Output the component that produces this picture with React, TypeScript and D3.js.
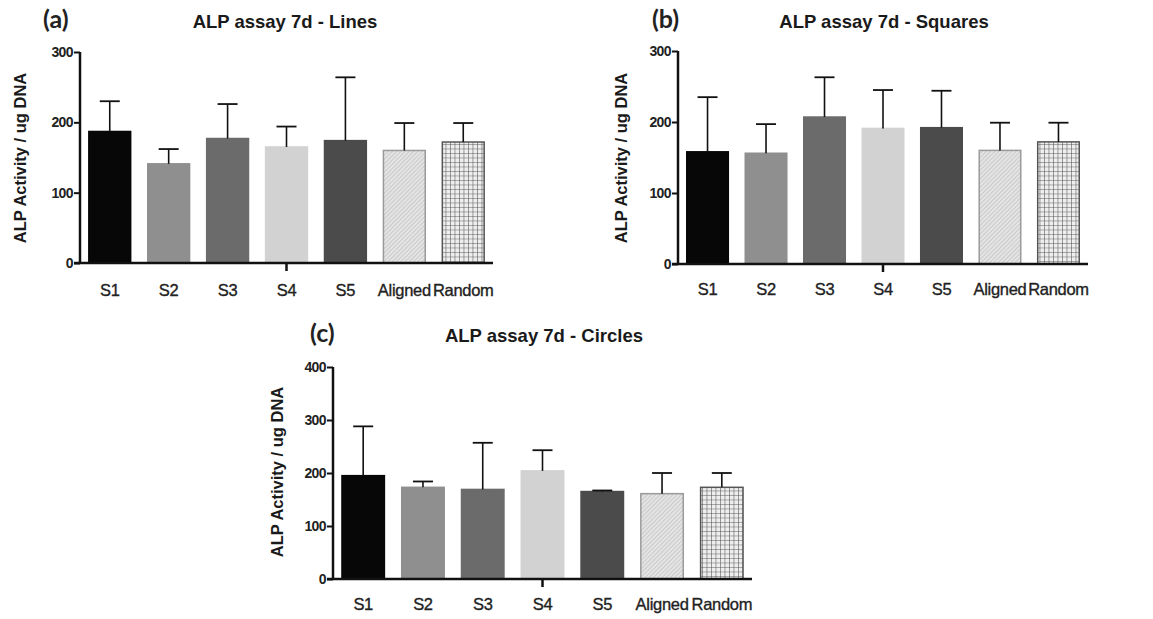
import React, { useEffect, useRef } from "react";
import * as d3 from "d3";

// groups on the x axis
const categories = ["S1", "S2", "S3", "S4", "S5", "Aligned", "Random"];

// (a) Lines
const linesMean = [187, 141, 177, 165, 174, 160, 172];
const linesErrTop = [230, 162, 226, 194, 264, 199, 199];

// (b) Squares
const squaresMean = [158, 156, 207, 191, 192, 160, 172];
const squaresErrTop = [235, 197, 263, 245, 244, 199, 199];

// (c) Circles
const circlesMean = [195, 173, 169, 204, 165, 161, 173];
const circlesErrTop = [288, 184, 257, 243, 167, 200, 200];

const yTicksA = [0, 100, 200, 300];
const yTicksC = [0, 100, 200, 300, 400];

const fills = ["#070707", "#8f8f8f", "#6b6b6b", "#d2d2d2", "#4b4b4b", "url(#hatch)", "url(#grid)"];
const strokes = ["#070707", "#8f8f8f", "#6b6b6b", "#d2d2d2", "#4b4b4b", "#9a9a9a", "#555"];

const panels = [
  { tag: "(a)", title: "ALP assay 7d - Lines", mean: linesMean, err: linesErrTop, ticks: yTicksA,
    x0: 80, x1: 493, yTop: 52, yBot: 263, tagX: 43, titleX: 285, titleY: 28, labelX: 20, labelY: 158, xLabY: 296 },
  { tag: "(b)", title: "ALP assay 7d - Squares", mean: squaresMean, err: squaresErrTop, ticks: yTicksA,
    x0: 678, x1: 1088, yTop: 51, yBot: 264, tagX: 652, titleX: 884, titleY: 28, labelX: 621, labelY: 158, xLabY: 295 },
  { tag: "(c)", title: "ALP assay 7d - Circles", mean: circlesMean, err: circlesErrTop, ticks: yTicksC,
    x0: 333, x1: 752, yTop: 367, yBot: 579, tagX: 310, titleX: 544, titleY: 342, labelX: 277, labelY: 472, xLabY: 610 },
];

const font = "Liberation Sans, Arial, sans-serif";

export default function App() {
  const ref = useRef<SVGSVGElement>(null);

  useEffect(() => {
    const svg = d3.select(ref.current);
    svg.selectAll("g.panel").remove();

    panels.forEach(p => {
      const g = svg.append("g").attr("class", "panel");
      const maxV = p.ticks[p.ticks.length - 1];

      const x = d3.scaleBand<string>()
        .domain(categories)
        .range([p.x0, p.x1])
        .paddingInner(0.29)
        .paddingOuter(0.15);
      const y = d3.scaleLinear().domain([0, maxV]).range([p.yBot, p.yTop]);

      // bars
      g.selectAll("rect.bar")
        .data(categories)
        .enter()
        .append("rect")
        .attr("class", "bar")
        .attr("x", d => x(d)!)
        .attr("y", (d, i) => y(p.mean[i]))
        .attr("width", x.bandwidth())
        .attr("height", (d, i) => y(0) - y(p.mean[i]))
        .attr("fill", (d, i) => fills[i])
        .attr("stroke", (d, i) => strokes[i])
        .attr("stroke-width", 1.5);

      // upper error bars
      const cap = 10;
      categories.forEach((c, i) => {
        const cx = x(c)! + x.bandwidth() / 2;
        g.append("line")
          .attr("x1", cx).attr("x2", cx)
          .attr("y1", y(p.mean[i])).attr("y2", y(p.err[i]))
          .attr("stroke", "#111").attr("stroke-width", 1.6);
        g.append("line")
          .attr("x1", cx - cap).attr("x2", cx + cap)
          .attr("y1", y(p.err[i])).attr("y2", y(p.err[i]))
          .attr("stroke", "#111").attr("stroke-width", 1.8);
      });

      // y axis
      const yAxis = d3.axisLeft(y).tickValues(p.ticks).tickSize(6).tickPadding(1).tickFormat(d3.format("d"));
      const ya = g.append("g").attr("transform", `translate(${p.x0},0)`).call(yAxis);
      ya.select(".domain").attr("stroke", "#111").attr("stroke-width", 2.5)
        .attr("d", `M0,${p.yTop}V${p.yBot}`);
      ya.selectAll(".tick line").attr("stroke", "#111").attr("stroke-width", 2);
      ya.selectAll(".tick text")
        .attr("font-family", font)
        .attr("font-size", 14)
        .attr("font-weight", "bold")
        .attr("fill", "#222")
        .attr("letter-spacing", -0.6);

      // x axis line with one middle tick
      g.append("line")
        .attr("x1", p.x0 - 6).attr("x2", p.x1)
        .attr("y1", p.yBot).attr("y2", p.yBot)
        .attr("stroke", "#111").attr("stroke-width", 2.5);
      const mid = (p.x0 + p.x1) / 2;
      g.append("line")
        .attr("x1", mid).attr("x2", mid)
        .attr("y1", p.yBot).attr("y2", p.yBot + 8)
        .attr("stroke", "#111").attr("stroke-width", 2.5);

      // x labels
      g.selectAll("text.xlab")
        .data(categories)
        .enter()
        .append("text")
        .attr("class", "xlab")
        .attr("x", d => x(d)! + x.bandwidth() / 2)
        .attr("y", p.xLabY)
        .attr("text-anchor", "middle")
        .attr("font-family", font)
        .attr("font-size", 16.5)
        .attr("fill", "#222")
        .attr("stroke", "#222")
        .attr("stroke-width", 0.35)
        .attr("letter-spacing", -0.3)
        .text(d => d);

      // y label
      g.append("text")
        .attr("transform", `translate(${p.labelX + 6},${p.labelY}) rotate(-90)`)
        .attr("text-anchor", "middle")
        .attr("font-family", font)
        .attr("font-size", 16.5)
        .attr("font-weight", "bold")
        .attr("fill", "#1a1a1a")
        .text("ALP Activity / ug DNA");

      // title and panel tag
      g.append("text")
        .attr("x", p.titleX)
        .attr("y", p.titleY)
        .attr("text-anchor", "middle")
        .attr("font-family", font)
        .attr("font-size", 18.5)
        .attr("font-weight", "bold")
        .attr("fill", "#1a1a1a")
        .text(p.title);
      g.append("text")
        .attr("x", p.tagX)
        .attr("y", p.titleY)
        .attr("font-family", "Lato, sans-serif")
        .attr("font-size", 25)
        .attr("font-weight", "bold")
        .attr("fill", "#222")
        .text(p.tag);
    });
  }, []);

  return (
    <svg ref={ref} width={1153} height={619} style={{ position: "absolute", left: 0, top: 0, background: "#fff" }}>
      <defs>
        <pattern id="hatch" width="3" height="3" patternUnits="userSpaceOnUse" patternTransform="rotate(45)">
          <rect width="3" height="3" fill="#e4e4e4" />
          <line x1="0" y1="0" x2="0" y2="3" stroke="#b0b0b0" strokeWidth="1" />
        </pattern>
        <pattern id="grid" width="4.5" height="4.5" patternUnits="userSpaceOnUse">
          <rect width="4.5" height="4.5" fill="#eeeeee" />
          <path d="M0,0H4.5M0,0V4.5" stroke="#555" strokeWidth="1.1" fill="none" />
        </pattern>
      </defs>
    </svg>
  );
}
